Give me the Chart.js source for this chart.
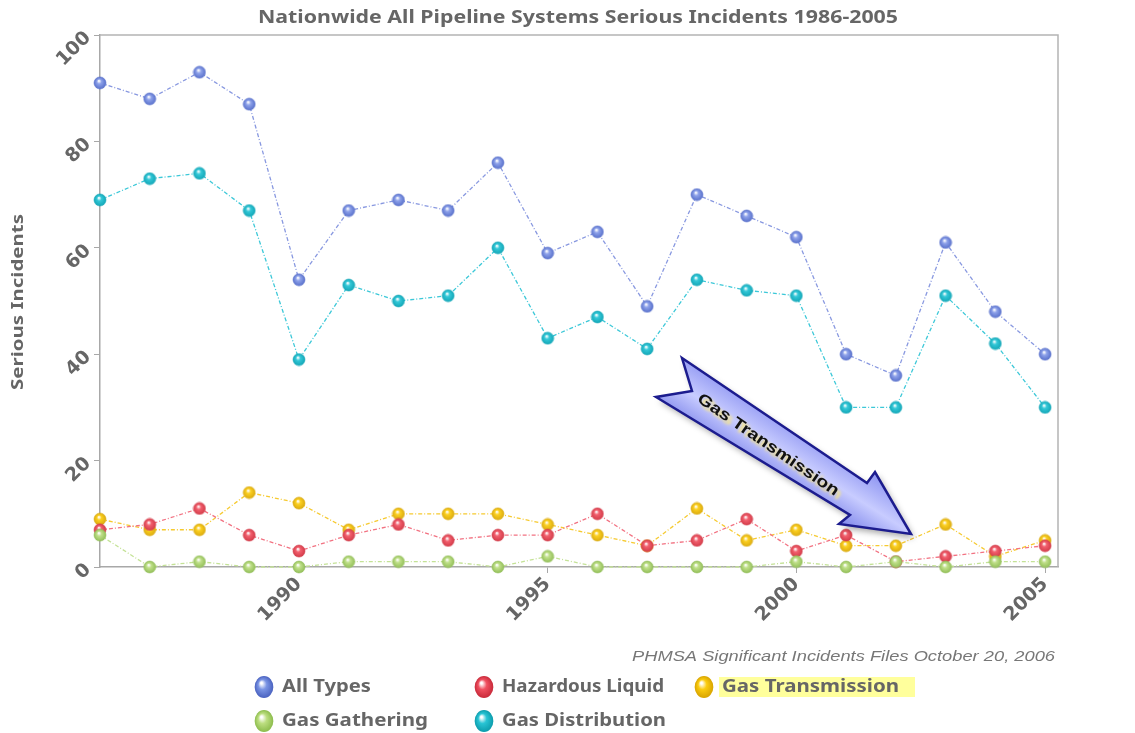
<!DOCTYPE html>
<html>
<head>
<meta charset="utf-8">
<title>Nationwide All Pipeline Systems Serious Incidents 1986-2005</title>
<script src="https://cdn.jsdelivr.net/npm/chart.js@4.4.0/dist/chart.umd.min.js"></script>
<style>
  html, body { margin: 0; padding: 0; background: #fff; }
  #wrap { position: relative; width: 1135px; height: 733px; }
</style>
</head>
<body>
<div id="wrap"><canvas id="incidentsChart"></canvas></div>
<script>
// data
const years = [1986, 1987, 1988, 1989, 1990, 1991, 1992, 1993, 1994, 1995,
               1996, 1997, 1998, 1999, 2000, 2001, 2002, 2003, 2004, 2005];
const allTypes        = [91, 88, 93, 87, 54, 67, 69, 67, 76, 59, 63, 49, 70, 66, 62, 40, 36, 61, 48, 40];
const gasDistribution = [69, 73, 74, 67, 39, 53, 50, 51, 60, 43, 47, 41, 54, 52, 51, 30, 30, 51, 42, 30];
const hazardousLiquid = [7, 8, 11, 6, 3, 6, 8, 5, 6, 6, 10, 4, 5, 9, 3, 6, 1, 2, 3, 4];
const gasTransmission = [9, 7, 7, 14, 12, 7, 10, 10, 10, 8, 6, 4, 11, 5, 7, 4, 4, 8, 2, 5];
const gasGathering    = [6, 0, 1, 0, 0, 1, 1, 1, 0, 2, 0, 0, 0, 0, 1, 0, 1, 0, 1, 1];
const xTicks = [1990, 1995, 2000, 2005];
const yTicks = [0, 20, 40, 60, 80, 100];

const titleText = "Nationwide All Pipeline Systems Serious Incidents 1986-2005";
const yTitleText = "Serious Incidents";
const creditText = "PHMSA Significant Incidents Files October 20, 2006";

// glossy ball used as the point marker
function sphere(color, dark, r) {
  const s = r * 2 + 2;
  const c = document.createElement("canvas");
  c.width = s; c.height = s;
  const g = c.getContext("2d");
  const grad = g.createRadialGradient(s * 0.42, s * 0.35, 0.4, s / 2, s / 2, r);
  grad.addColorStop(0, "#ffffff");
  grad.addColorStop(0.35, color);
  grad.addColorStop(1, dark);
  g.fillStyle = grad;
  g.beginPath();
  g.arc(s / 2, s / 2, r, 0, Math.PI * 2);
  g.fill();
  g.strokeStyle = dark;
  g.lineWidth = 0.6;
  g.stroke();
  return c;
}

function series(label, values, line, base, dark) {
  return {
    label: label,
    data: values.map((v, i) => ({ x: years[i], y: v })),
    borderColor: line,
    borderWidth: 1.3,
    borderDash: [4, 2, 1, 2],
    pointStyle: sphere(base, dark, 6),
    pointRadius: 6,
    tension: 0,
    clip: false
  };
}

function fitText(ctx, text, x, y, width) {
  const w = ctx.measureText(text).width;
  ctx.save();
  ctx.translate(x, y);
  ctx.scale(width / w, 1);
  ctx.fillText(text, 0, 0);
  ctx.restore();
}

const legendItems = [
  { label: "All Types",        color: "#7a94e4", dark: "#4a62c0", x: 264, y: 687, w: 89 },
  { label: "Hazardous Liquid", color: "#f05060", dark: "#c82a3a", x: 484, y: 687, w: 162 },
  { label: "Gas Transmission", color: "#fbcc10", dark: "#d8a400", x: 704, y: 687, w: 177 },
  { label: "Gas Gathering",    color: "#bcde80", dark: "#8cbc4c", x: 264, y: 721, w: 146 },
  { label: "Gas Distribution", color: "#28c4d4", dark: "#0c9cac", x: 484, y: 721, w: 164 }
];

const decorations = {
  id: "decorations",
  beforeDatasetsDraw(chart) {
    const { ctx, chartArea: a } = chart;
    ctx.save();
    ctx.strokeStyle = "#b4b4b4";
    ctx.lineWidth = 1.5;
    ctx.beginPath();
    ctx.moveTo(a.left, a.top);
    ctx.lineTo(a.right, a.top);
    ctx.lineTo(a.right, a.bottom);
    ctx.stroke();
    ctx.restore();
  },
  afterDatasetsDraw(chart) {
    const ctx = chart.ctx;
    // callout arrow
    ctx.save();
    ctx.beginPath();
    ctx.moveTo(682, 358);
    ctx.lineTo(867, 483);
    ctx.lineTo(875, 472);
    ctx.lineTo(911, 534);
    ctx.lineTo(839, 524);
    ctx.lineTo(850, 515);
    ctx.lineTo(656, 397);
    ctx.lineTo(692, 391);
    ctx.closePath();
    const grad = ctx.createLinearGradient(790, 410, 752, 470);
    grad.addColorStop(0, "#8088ee");
    grad.addColorStop(0.55, "#c8ccff");
    grad.addColorStop(1, "#7c84ea");
    ctx.shadowColor = "rgba(0,0,0,0.35)";
    ctx.shadowBlur = 6;
    ctx.shadowOffsetX = 3;
    ctx.shadowOffsetY = 4;
    ctx.fillStyle = grad;
    ctx.fill();
    ctx.shadowColor = "transparent";
    ctx.strokeStyle = "#1c1c8e";
    ctx.lineWidth = 2.5;
    ctx.lineJoin = "miter";
    ctx.stroke();

    ctx.translate(768, 445);
    ctx.rotate(34.5 * Math.PI / 180);
    ctx.font = 'bold 16px "Liberation Sans"';
    ctx.textAlign = "left";
    ctx.textBaseline = "middle";
    ctx.shadowColor = "rgba(255,235,120,0.9)";
    ctx.shadowBlur = 3;
    ctx.fillStyle = "#111";
    fitText(ctx, "Gas Transmission", -84, 0, 168);
    ctx.restore();
  },
  afterDraw(chart) {
    const ctx = chart.ctx;
    ctx.save();
    ctx.fillStyle = "#666";
    ctx.textAlign = "left";
    ctx.textBaseline = "middle";

    ctx.font = 'bold 17px "Noto Sans"';
    fitText(ctx, titleText, 258, 18, 640);

    ctx.save();
    ctx.translate(18, 302);
    ctx.rotate(-Math.PI / 2);
    ctx.font = 'bold 16px "Noto Sans"';
    fitText(ctx, yTitleText, -88, 0, 176);
    ctx.restore();

    ctx.fillStyle = "#777";
    ctx.font = 'italic 15px "Liberation Sans"';
    fitText(ctx, creditText, 632, 657, 423);

    // legend
    ctx.fillStyle = "#ffff9c";
    ctx.fillRect(719, 677, 196, 20);
    legendItems.forEach(item => {
      ctx.save();
      ctx.translate(item.x, item.y);
      ctx.scale(0.85, 1);
      const g = ctx.createRadialGradient(-3, -4, 1, 0, 0, 11);
      g.addColorStop(0, "#ffffff");
      g.addColorStop(0.4, item.color);
      g.addColorStop(1, item.dark);
      ctx.fillStyle = g;
      ctx.beginPath();
      ctx.arc(0, 0, 11, 0, Math.PI * 2);
      ctx.fill();
      ctx.restore();
      ctx.fillStyle = "#666";
      ctx.font = 'bold 17px "Noto Sans"';
      fitText(ctx, item.label, item.x + 18, item.y, item.w);
    });
    ctx.restore();
  }
};

const ctx = document.getElementById("incidentsChart").getContext("2d");
new Chart(ctx, {
  type: "line",
  data: {
    datasets: [
      series("Gas Gathering", gasGathering, "#c4e296", "#c0e08a", "#94c05a"),
      series("Hazardous Liquid", hazardousLiquid, "#f27282", "#f2606e", "#d43c4a"),
      series("Gas Transmission", gasTransmission, "#f6ca30", "#fcd020", "#dcac10"),
      series("Gas Distribution", gasDistribution, "#3cc8d8", "#34c8d8", "#14a8b8"),
      series("All Types", allTypes, "#8898e0", "#8ea2ea", "#5a72cc")
    ]
  },
  options: {
    responsive: true,
    maintainAspectRatio: false,
    animation: false,
    layout: { padding: { left: 0, top: 35, right: 77, bottom: 0 } },
    plugins: {
      legend: { display: false },
      title: { display: false },
      tooltip: { enabled: false }
    },
    scales: {
      x: {
        type: "linear",
        min: 1986,
        max: 2005.26,
        afterBuildTicks: scale => { scale.ticks = xTicks.map(v => ({ value: v })); },
        afterFit: scale => { scale.height = 166; },
        grid: { drawOnChartArea: false, tickLength: 6, color: "#a8a8a8" },
        border: { color: "#a8a8a8", width: 1.5 },
        ticks: {
          minRotation: 45,
          maxRotation: 45,
          padding: 0,
          color: "#666",
          font: { family: "DejaVu Sans", size: 19, weight: "bold" },
          callback: v => String(v)
        }
      },
      y: {
        min: 0,
        max: 100,
        afterBuildTicks: scale => { scale.ticks = yTicks.map(v => ({ value: v })); },
        afterFit: scale => { scale.width = 100; },
        grid: { drawOnChartArea: false, tickLength: 6, color: "#a8a8a8" },
        border: { color: "#a8a8a8", width: 1.5 },
        ticks: {
          minRotation: 45,
          maxRotation: 45,
          padding: 6,
          color: "#666",
          font: { family: "DejaVu Sans", size: 19, weight: "bold" }
        }
      }
    }
  },
  plugins: [decorations]
});
</script>
</body>
</html>
